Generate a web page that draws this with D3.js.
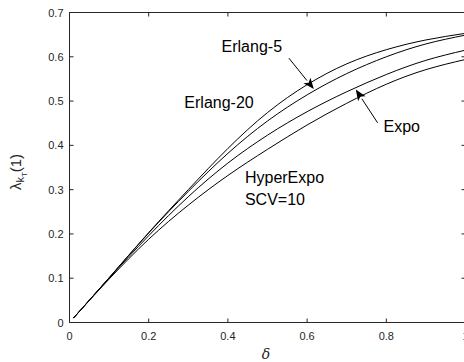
<!DOCTYPE html>
<html><head><meta charset="utf-8">
<script src="https://cdn.jsdelivr.net/npm/d3@7"></script>
<style>html,body{margin:0;padding:0;background:#fff;overflow:hidden}</style>
</head><body>
<svg id="chart" width="464" height="362"></svg>
<script>
const delta = [0.01, 0.1, 0.2, 0.3, 0.4, 0.5, 0.6, 0.7, 0.8, 0.9, 1.0];
const erlang20 = [0.01, 0.101, 0.203, 0.300, 0.393, 0.474, 0.537, 0.584, 0.616, 0.638, 0.653];
const erlang5  = [0.01, 0.101, 0.202, 0.296, 0.382, 0.455, 0.514, 0.562, 0.600, 0.629, 0.649];
const expo     = [0.01, 0.100, 0.196, 0.284, 0.360, 0.423, 0.476, 0.521, 0.560, 0.592, 0.615];
const hyper    = [0.01, 0.098, 0.188, 0.265, 0.332, 0.391, 0.446, 0.495, 0.538, 0.571, 0.594];
const xTicks = [0, 0.2, 0.4, 0.6, 0.8, 1];
const yTicks = [0, 0.1, 0.2, 0.3, 0.4, 0.5, 0.6, 0.7];
const labels = [
  {text: "Erlang-5", x: 0.384, y: 0.611},
  {text: "Erlang-20", x: 0.29, y: 0.485},
  {text: "Expo", x: 0.793, y: 0.431},
  {text: "HyperExpo", x: 0.443, y: 0.314},
  {text: "SCV=10", x: 0.443, y: 0.265}
];
const arrows = [
  {from: [0.554, 0.597], to: [0.617, 0.527]},
  {from: [0.778, 0.451], to: [0.723, 0.526]}
];

const svg = d3.select("#chart");
const x = d3.scaleLinear().domain([0, 1]).range([69.5, 465.5]);
const y = d3.scaleLinear().domain([0, 0.7]).range([322.5, 12.5]);
const axisColor = "#262626";
const font = "'Liberation Sans', Arial, Helvetica, sans-serif";

// box
const g = svg.append("g");
g.append("line").attr("x1", x(0)).attr("x2", x(1)).attr("y1", y(0)).attr("y2", y(0)).attr("stroke", axisColor);
g.append("line").attr("x1", x(0)).attr("x2", x(1)).attr("y1", y(0.7)).attr("y2", y(0.7)).attr("stroke", axisColor);
g.append("line").attr("x1", x(0)).attr("x2", x(0)).attr("y1", y(0)).attr("y2", y(0.7)).attr("stroke", axisColor);
g.append("line").attr("x1", x(1)).attr("x2", x(1)).attr("y1", y(0)).attr("y2", y(0.7)).attr("stroke", axisColor);

const tl = 4;
xTicks.forEach(t => {
  g.append("line").attr("x1", x(t)).attr("x2", x(t)).attr("y1", y(0)).attr("y2", y(0) - tl).attr("stroke", axisColor);
  g.append("line").attr("x1", x(t)).attr("x2", x(t)).attr("y1", y(0.7)).attr("y2", y(0.7) + tl).attr("stroke", axisColor);
  g.append("text").attr("x", x(t)).attr("y", 339.5).attr("text-anchor", "middle")
    .attr("font-family", font).attr("font-size", 11).attr("fill", axisColor).text(d3.format("~g")(t));
});
yTicks.forEach(t => {
  g.append("line").attr("x1", x(0)).attr("x2", x(0) + tl).attr("y1", y(t)).attr("y2", y(t)).attr("stroke", axisColor);
  g.append("line").attr("x1", x(1)).attr("x2", x(1) - tl).attr("y1", y(t)).attr("y2", y(t)).attr("stroke", axisColor);
  g.append("text").attr("x", 63.5).attr("y", y(t) + 4).attr("text-anchor", "end")
    .attr("font-family", font).attr("font-size", 11).attr("fill", axisColor).text(d3.format("~g")(t));
});

// axis labels
svg.append("text").attr("x", 266).attr("y", 359).attr("text-anchor", "middle")
  .attr("font-family", "'DejaVu Serif', 'Liberation Serif', serif").attr("font-style", "italic")
  .attr("font-size", 14).attr("fill", axisColor).text("δ");
const yl = svg.append("text").attr("transform", "translate(21,172) rotate(-90)").attr("text-anchor", "middle")
  .attr("font-family", font).attr("font-size", 15).attr("fill", axisColor);
yl.append("tspan").text("λ");
yl.append("tspan").attr("font-size", 11).attr("dy", 3).text("k");
yl.append("tspan").attr("font-size", 8).attr("dy", 3).text("T");
yl.append("tspan").attr("dy", -6).text("(1)");

// curves
const line = d3.line().x((d, i) => x(delta[i])).y(d => y(d)).curve(d3.curveNatural);
[erlang20, erlang5, expo, hyper].forEach(s => {
  svg.append("path").attr("d", line(s)).attr("fill", "none").attr("stroke", "#000").attr("stroke-width", 1);
});

// labels
labels.forEach(l => {
  svg.append("text").attr("x", x(l.x)).attr("y", y(l.y)).attr("font-family", font)
    .attr("font-size", 16).attr("fill", "#000").text(l.text);
});

// arrows
arrows.forEach(a => {
  const x1 = x(a.from[0]), y1 = y(a.from[1]), x2 = x(a.to[0]), y2 = y(a.to[1]);
  const ang = Math.atan2(y2 - y1, x2 - x1);
  const L = 11, W = 4.5;
  const bx = x2 - L * Math.cos(ang), by = y2 - L * Math.sin(ang);
  svg.append("line").attr("x1", x1).attr("y1", y1).attr("x2", bx).attr("y2", by).attr("stroke", "#000").attr("stroke-width", 1);
  const p = [[x2, y2],
    [bx + W * Math.sin(ang), by - W * Math.cos(ang)],
    [x2 - 0.75 * L * Math.cos(ang), y2 - 0.75 * L * Math.sin(ang)],
    [bx - W * Math.sin(ang), by + W * Math.cos(ang)]];
  svg.append("path").attr("d", "M" + p.map(q => q.join(",")).join("L") + "Z").attr("fill", "#000");
});
</script>
</body></html>
